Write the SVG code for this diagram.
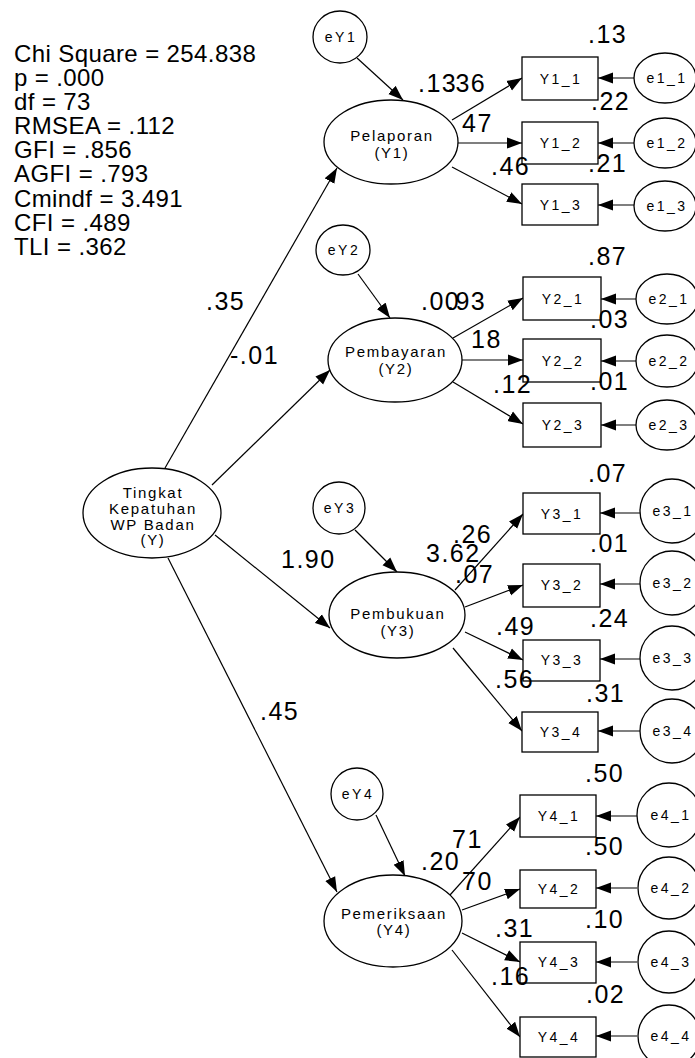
<svg xmlns="http://www.w3.org/2000/svg" width="695" height="1058" viewBox="0 0 695 1058">
<style>
  .bg{fill:#fff}
  .ov{fill:#fff;stroke:#000;stroke-width:1.3}
  .bx{fill:#fff;stroke:#000;stroke-width:1.3}
  .ln{fill:none;stroke:#000;stroke-width:1.2;marker-end:url(#ah)}
  .nt{font-family:"Liberation Sans",Arial,sans-serif;font-size:15px;letter-spacing:1.7px;text-anchor:middle;fill:#000}
  .st{font-family:"Liberation Sans",Arial,sans-serif;font-size:14px;letter-spacing:2.5px;text-anchor:middle;fill:#000}
  .lb{font-family:"Liberation Sans",Arial,sans-serif;font-size:25px;letter-spacing:1.5px;fill:#000}
  .fit{font-family:"Liberation Sans",Arial,sans-serif;font-size:24px;letter-spacing:0.4px;fill:#000}
</style>
<defs>
  <marker id="ah" markerUnits="userSpaceOnUse" markerWidth="16" markerHeight="12" refX="15" refY="6" orient="auto">
    <path d="M0,0.5 L15,6 L0,11.5 z" fill="#000"/>
  </marker>
</defs>
<rect class="bg" x="0" y="0" width="695" height="1058"/>

<g id="fit-stats">
  <text class="fit" x="14" y="62">Chi Square = 254.838</text>
  <text class="fit" x="14" y="86">p = .000</text>
  <text class="fit" x="14" y="110">df = 73</text>
  <text class="fit" x="14" y="134">RMSEA = .112</text>
  <text class="fit" x="14" y="158">GFI = .856</text>
  <text class="fit" x="14" y="182">AGFI = .793</text>
  <text class="fit" x="14" y="207">Cmindf = 3.491</text>
  <text class="fit" x="14" y="231">CFI = .489</text>
  <text class="fit" x="14" y="255">TLI = .362</text>
</g>

<g id="connectors">
  <!-- Y to latent -->
  <line class="ln" x1="165" y1="468" x2="337" y2="168"/>
  <line class="ln" x1="212" y1="485" x2="330" y2="370"/>
  <line class="ln" x1="215" y1="535" x2="330" y2="628"/>
  <line class="ln" x1="168" y1="558" x2="337" y2="892"/>
  <!-- disturbances -->
  <line class="ln" x1="357" y1="58" x2="403" y2="100"/>
  <line class="ln" x1="358" y1="274" x2="390" y2="318"/>
  <line class="ln" x1="355" y1="530" x2="397" y2="572"/>
  <line class="ln" x1="376" y1="815" x2="405" y2="876"/>
  <!-- Y1 indicators -->
  <line class="ln" x1="452" y1="120" x2="522" y2="78"/>
  <line class="ln" x1="458" y1="143" x2="522" y2="143"/>
  <line class="ln" x1="452" y1="167" x2="522" y2="204"/>
  <!-- Y2 indicators -->
  <line class="ln" x1="453" y1="338" x2="523" y2="298"/>
  <line class="ln" x1="462" y1="360" x2="523" y2="360"/>
  <line class="ln" x1="453" y1="382" x2="523" y2="424"/>
  <!-- Y3 indicators -->
  <line class="ln" x1="455" y1="590" x2="523" y2="514"/>
  <line class="ln" x1="465" y1="607" x2="523" y2="585"/>
  <line class="ln" x1="465" y1="632" x2="523" y2="660"/>
  <line class="ln" x1="453" y1="648" x2="522" y2="731"/>
  <!-- Y4 indicators -->
  <line class="ln" x1="450" y1="895" x2="520" y2="817"/>
  <line class="ln" x1="462" y1="910" x2="520" y2="889"/>
  <line class="ln" x1="462" y1="933" x2="520" y2="962"/>
  <line class="ln" x1="452" y1="950" x2="520" y2="1037"/>
  <!-- error terms -->
  <line class="ln" x1="634" y1="78" x2="598" y2="78"/>
  <line class="ln" x1="634" y1="143" x2="598" y2="143"/>
  <line class="ln" x1="634" y1="205" x2="598" y2="205"/>
  <line class="ln" x1="636" y1="299" x2="601" y2="299"/>
  <line class="ln" x1="636" y1="361" x2="601" y2="361"/>
  <line class="ln" x1="636" y1="425" x2="601" y2="425"/>
  <line class="ln" x1="640" y1="513" x2="600" y2="513"/>
  <line class="ln" x1="640" y1="584" x2="600" y2="584"/>
  <line class="ln" x1="640" y1="659" x2="600" y2="659"/>
  <line class="ln" x1="640" y1="731" x2="598" y2="731"/>
  <line class="ln" x1="637" y1="816" x2="596" y2="816"/>
  <line class="ln" x1="637" y1="888" x2="596" y2="888"/>
  <line class="ln" x1="637" y1="962" x2="596" y2="962"/>
  <line class="ln" x1="637" y1="1036" x2="596" y2="1036"/>
</g>

<g id="Y"><ellipse class="ov" cx="152" cy="513" rx="69" ry="45"/>
  <text class="nt" x="153" y="498">Tingkat</text>
  <text class="nt" x="153" y="514">Kepatuhan</text>
  <text class="nt" x="153" y="530">WP Badan</text>
  <text class="nt" x="153" y="545">(Y)</text></g>

<g id="Y1"><ellipse class="ov" cx="391" cy="142" rx="67" ry="42"/>
  <text class="nt" x="392" y="141">Pelaporan</text><text class="nt" x="392" y="158">(Y1)</text></g>
<g id="Y2"><ellipse class="ov" cx="395" cy="360" rx="67" ry="42"/>
  <text class="nt" x="396" y="357">Pembayaran</text><text class="nt" x="396" y="374">(Y2)</text></g>
<g id="Y3"><ellipse class="ov" cx="397" cy="615" rx="68" ry="43"/>
  <text class="nt" x="398" y="619">Pembukuan</text><text class="nt" x="398" y="636">(Y3)</text></g>
<g id="Y4"><ellipse class="ov" cx="393" cy="921" rx="69" ry="46"/>
  <text class="nt" x="394" y="919">Pemeriksaan</text><text class="nt" x="394" y="935">(Y4)</text></g>

<g id="eY1"><ellipse class="ov" cx="340" cy="37" rx="27" ry="26"/><text class="st" x="341" y="42">eY1</text></g>
<g id="eY2"><ellipse class="ov" cx="343" cy="250" rx="27" ry="25"/><text class="st" x="344" y="255">eY2</text></g>
<g id="eY3"><ellipse class="ov" cx="339" cy="508" rx="26" ry="26"/><text class="st" x="340" y="513">eY3</text></g>
<g id="eY4"><ellipse class="ov" cx="357" cy="794" rx="26" ry="26"/><text class="st" x="358" y="799">eY4</text></g>

<g id="Y1_1"><rect class="bx" x="522" y="57" width="76" height="43"/><text class="st" x="561" y="84">Y1_1</text></g>
<g id="Y1_2"><rect class="bx" x="522" y="122" width="76" height="42"/><text class="st" x="561" y="148">Y1_2</text></g>
<g id="Y1_3"><rect class="bx" x="522" y="184" width="76" height="41"/><text class="st" x="561" y="210">Y1_3</text></g>
<g id="Y2_1"><rect class="bx" x="523" y="277" width="78" height="43"/><text class="st" x="563" y="304">Y2_1</text></g>
<g id="Y2_2"><rect class="bx" x="523" y="339" width="78" height="43"/><text class="st" x="563" y="366">Y2_2</text></g>
<g id="Y2_3"><rect class="bx" x="523" y="403" width="78" height="44"/><text class="st" x="563" y="430">Y2_3</text></g>
<g id="Y3_1"><rect class="bx" x="523" y="493" width="77" height="41"/><text class="st" x="562" y="519">Y3_1</text></g>
<g id="Y3_2"><rect class="bx" x="523" y="564" width="77" height="43"/><text class="st" x="562" y="590">Y3_2</text></g>
<g id="Y3_3"><rect class="bx" x="523" y="640" width="77" height="41"/><text class="st" x="562" y="665">Y3_3</text></g>
<g id="Y3_4"><rect class="bx" x="522" y="712" width="76" height="40"/><text class="st" x="561" y="737">Y3_4</text></g>
<g id="Y4_1"><rect class="bx" x="520" y="795" width="76" height="42"/><text class="st" x="559" y="821">Y4_1</text></g>
<g id="Y4_2"><rect class="bx" x="520" y="870" width="76" height="38"/><text class="st" x="559" y="894">Y4_2</text></g>
<g id="Y4_3"><rect class="bx" x="520" y="942" width="76" height="41"/><text class="st" x="559" y="967">Y4_3</text></g>
<g id="Y4_4"><rect class="bx" x="520" y="1017" width="76" height="40"/><text class="st" x="559" y="1042">Y4_4</text></g>

<g id="e1_1"><ellipse class="ov" cx="665" cy="78" rx="31" ry="25"/><text class="st" x="667" y="83">e1_1</text></g>
<g id="e1_2"><ellipse class="ov" cx="665" cy="143" rx="31" ry="25"/><text class="st" x="667" y="148">e1_2</text></g>
<g id="e1_3"><ellipse class="ov" cx="665" cy="206" rx="31" ry="25"/><text class="st" x="667" y="211">e1_3</text></g>
<g id="e2_1"><ellipse class="ov" cx="667" cy="299" rx="31" ry="25"/><text class="st" x="669" y="304">e2_1</text></g>
<g id="e2_2"><ellipse class="ov" cx="667" cy="361" rx="31" ry="26"/><text class="st" x="669" y="366">e2_2</text></g>
<g id="e2_3"><ellipse class="ov" cx="667" cy="425" rx="31" ry="25"/><text class="st" x="669" y="430">e2_3</text></g>
<g id="e3_1"><circle class="ov" cx="672" cy="511" r="32"/><text class="st" x="673" y="516">e3_1</text></g>
<g id="e3_2"><circle class="ov" cx="672" cy="583" r="32"/><text class="st" x="673" y="588">e3_2</text></g>
<g id="e3_3"><circle class="ov" cx="672" cy="658" r="32"/><text class="st" x="673" y="663">e3_3</text></g>
<g id="e3_4"><circle class="ov" cx="672" cy="731" r="32"/><text class="st" x="673" y="736">e3_4</text></g>
<g id="e4_1"><circle class="ov" cx="669" cy="815" r="32"/><text class="st" x="671" y="820">e4_1</text></g>
<g id="e4_2"><circle class="ov" cx="669" cy="888" r="31"/><text class="st" x="671" y="893">e4_2</text></g>
<g id="e4_3"><circle class="ov" cx="669" cy="962" r="31"/><text class="st" x="671" y="967">e4_3</text></g>
<g id="e4_4"><circle class="ov" cx="669" cy="1036" r="31"/><text class="st" x="671" y="1041">e4_4</text></g>

<g id="labels">
  <text class="lb" x="206" y="310">.35</text>
  <text class="lb" x="230" y="364">-.01</text>
  <text class="lb" x="281" y="568">1.90</text>
  <text class="lb" x="260" y="720">.45</text>
  <!-- Y1 -->
  <text class="lb" x="588" y="43">.13</text>
  <text class="lb" x="418" y="92">.13</text>
  <text class="lb" x="447" y="92">.36</text>
  <text class="lb" x="462" y="132">47</text>
  <text class="lb" x="591" y="110">.22</text>
  <text class="lb" x="491" y="175">.46</text>
  <text class="lb" x="588" y="172">.21</text>
  <!-- Y2 -->
  <text class="lb" x="588" y="265">.87</text>
  <text class="lb" x="421" y="310">.00</text>
  <text class="lb" x="447" y="310">.93</text>
  <text class="lb" x="471" y="348">18</text>
  <text class="lb" x="590" y="328">.03</text>
  <text class="lb" x="493" y="393">.12</text>
  <text class="lb" x="590" y="390">.01</text>
  <!-- Y3 -->
  <text class="lb" x="588" y="482">.07</text>
  <text class="lb" x="453" y="543">.26</text>
  <text class="lb" x="426" y="562">3.62</text>
  <text class="lb" x="455" y="583">.07</text>
  <text class="lb" x="590" y="552">.01</text>
  <text class="lb" x="590" y="627">.24</text>
  <text class="lb" x="496" y="635">.49</text>
  <text class="lb" x="495" y="688">.56</text>
  <text class="lb" x="586" y="702">.31</text>
  <!-- Y4 -->
  <text class="lb" x="585" y="782">.50</text>
  <text class="lb" x="452" y="848">71</text>
  <text class="lb" x="421" y="870">.20</text>
  <text class="lb" x="462" y="890">70</text>
  <text class="lb" x="585" y="855">.50</text>
  <text class="lb" x="585" y="928">.10</text>
  <text class="lb" x="495" y="937">.31</text>
  <text class="lb" x="491" y="985">.16</text>
  <text class="lb" x="586" y="1003">.02</text>
</g>
</svg>
